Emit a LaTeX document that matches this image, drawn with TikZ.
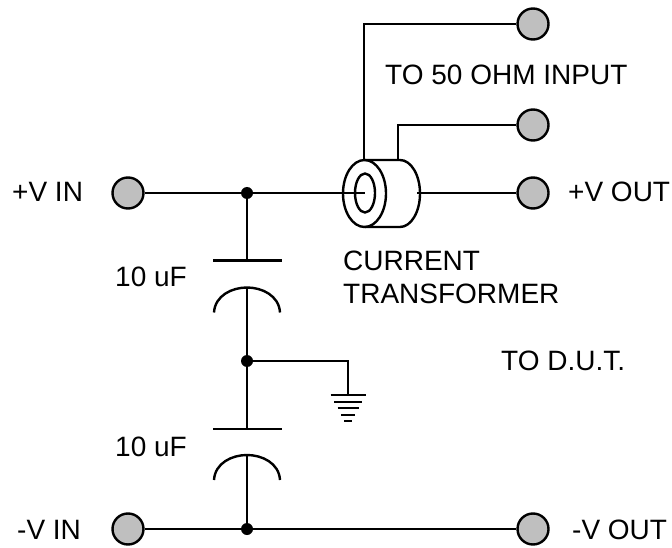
\documentclass[tikz,border=0pt]{standalone}
\usepackage{fontspec}
\setmainfont{Liberation Sans}
\tikzset{
  wire/.style={line width=2.4pt},
  terminal/.style={circle, draw=black, line width=2.4pt, fill=black!25, minimum size=31pt, inner sep=0pt},
  junction/.style={circle, fill=black, minimum size=12pt, inner sep=0pt},
  label/.style={anchor=base west, inner sep=0pt, font=\fontsize{28}{30}\selectfont}
}
\begin{document}
\begin{tikzpicture}[x=1pt,y=-1pt]
    \useasboundingbox (0,0) rectangle (672,548);

    \node[terminal] (vinp) at (128,193) {};
    \node[terminal] (vinn) at (128,529) {};
    \node[terminal] (voutp) at (533,193) {};
    \node[terminal] (voutn) at (533,529) {};
    \node[terminal] (sighi) at (533,24) {};
    \node[terminal] (siglo) at (533,125) {};

    \node[junction] (jtop) at (247,193) {};
    \node[junction] (jmid) at (247,361) {};
    \node[junction] (jbot) at (247,529) {};

    \coordinate (coreleft) at (365,193);
    \coordinate (coreright) at (417,193);
    \coordinate (tapa) at (364,160);
    \coordinate (tapb) at (398,160);
    \coordinate (gnd) at (348,395);

    % wires
    \draw[wire] (vinp) -- (jtop) -- (coreleft);
    \draw[wire] (coreright) -- (voutp);
    \draw[wire] (vinn) -- (jbot) -- (voutn);
    \draw[wire] (tapa) |- (sighi);
    \draw[wire] (tapb) |- (siglo);
    \draw[wire] (jmid) -| (gnd);

    % current transformer
    \draw[wire] (365,160) -- (400,160) arc[start angle=-90, end angle=90, x radius=20, y radius=33.5] -- (365,227);
    \draw[wire] (364.5,193.5) ellipse[x radius=21.5, y radius=33.5];
    \draw[wire] (365,193) ellipse[x radius=10, y radius=19.5];

    % capacitors
    \foreach \platey/\curvey/\name in {260.5/287.5/a,429/455/b} {
      \draw[wire] (213,\platey) -- (282,\platey);
      \draw[wire] (214,\curvey+25) .. controls (215,\curvey+8) and (232,\curvey) .. (247,\curvey)
        .. controls (262,\curvey) and (279,\curvey+8) .. (280,\curvey+25);
      \coordinate (plate\name) at (247,\platey);
      \coordinate (curve\name) at (247,\curvey);
    }
    \draw[wire] (jtop) -- (platea);
    \draw[wire] (curvea) -- (jmid) -- (plateb);
    \draw[wire] (curveb) -- (jbot);

    % ground
    \foreach \y/\w in {395/17.5,402/14,408/10.5,415/7,421/4} {
      \draw[wire] (348-\w,\y) -- (348+\w,\y);
    }

    \node[label] (lvinp) at (12,202) {+V IN};
    \node[label] (lvinn) at (17,539) {-V IN};
    \node[label] (lvoutp) at (568,202) {+V OUT};
    \node[label] (lvoutn) at (572,539) {-V OUT};
    \node[label] (lcapa) at (115,287) {10 uF};
    \node[label] (lcapb) at (115,456) {10 uF};
    \node[label] (linput) at (385,85) {TO 50 OHM INPUT};
    \node[label] (lcur) at (343,270) {CURRENT};
    \node[label] (ltrans) at (343,303) {TRANSFORMER};
    \node[label] (ldut) at (501,370) {TO D.U.T.};
  \end{tikzpicture}
\end{document}
